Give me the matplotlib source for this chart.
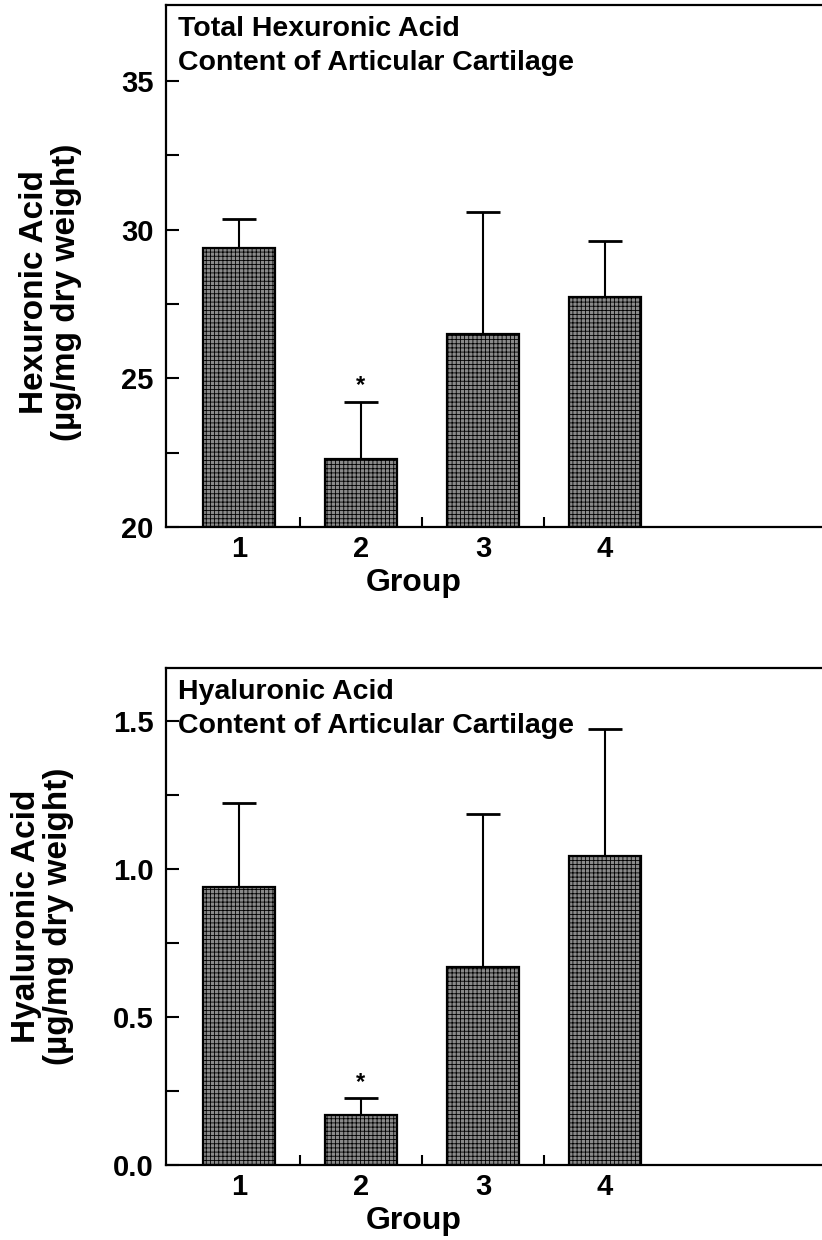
import numpy as np
import matplotlib
matplotlib.use("Agg")
import matplotlib.pyplot as plt

plt.rcParams['font.family'] = ['Liberation Sans Narrow', 'Liberation Sans', 'DejaVu Sans']
plt.rcParams['font.weight'] = 'bold'
plt.rcParams['axes.labelweight'] = 'bold'
plt.rcParams['hatch.color'] = '#4a4a4a'
plt.rcParams['hatch.linewidth'] = 0.6

# dados
grupos = [1, 2, 3, 4]
hexuronico = [29.37, 22.3, 26.5, 27.75]
hexuronico_erro = [0.98, 1.92, 4.1, 1.87]
hialuronico = [0.94, 0.17, 0.67, 1.045]
hialuronico_erro = [0.285, 0.055, 0.515, 0.43]
signif = [False, True, False, False]

painel_hex = {
    "titulo": "Total Hexuronic Acid\nContent of Articular Cartilage",
    "ylabel": "Hexuronic Acid\n(µg/mg dry weight)",
    "ylim": (20, 37.56),
    "major": [20, 25, 30, 35],
    "minor": [22.5, 27.5, 32.5],
    "fmt": "{:.0f}",
    "star": 0.55,
    "ylab_y": 0.45,
}
painel_hia = {
    "titulo": "Hyaluronic Acid\nContent of Articular Cartilage",
    "ylabel": "Hyaluronic Acid\n(µg/mg dry weight)",
    "ylim": (0, 1.68),
    "major": [0.0, 0.5, 1.0, 1.5],
    "minor": [0.25, 0.75, 1.25],
    "fmt": "{:.1f}",
    "star": 0.055,
    "ylab_y": 0.5,
}

fig = plt.figure(figsize=(8.22, 12.40), dpi=100)
ax1 = fig.add_axes([166 / 822, 1 - 527 / 1240, 1 - 166 / 822, (527 - 5) / 1240])
ax2 = fig.add_axes([166 / 822, 1 - 1165 / 1240, 1 - 166 / 822, (1165 - 668) / 1240])


def desenha(ax, valores, erros, cfg):
    x = np.array(grupos)
    ax.bar(x, np.array(valores) - cfg["ylim"][0], bottom=cfg["ylim"][0], width=0.59,
           color='#8a8a8a', edgecolor='black', linewidth=1.6, hatch='++++', zorder=2)
    ax.errorbar(x, valores, yerr=[np.zeros(4), erros], fmt='none', ecolor='black',
                elinewidth=1.5, capsize=12, capthick=2, zorder=1)
    for xi, v, e, s in zip(x, valores, erros, signif):
        if s:
            ax.text(xi, v + e + cfg["star"], '*', ha='center', va='center', fontsize=17)
    ax.set_xlim(0.402, 5.78)
    ax.set_ylim(*cfg["ylim"])
    ax.spines['right'].set_visible(False)
    for s in ['left', 'top', 'bottom']:
        ax.spines[s].set_linewidth(1.6)
    ax.set_xticks(grupos)
    ax.set_xticklabels([str(g) for g in grupos])
    ax.set_xticks([1.5, 2.5, 3.5], minor=True)
    ax.tick_params(axis='x', which='major', length=0, pad=6, labelsize=21)
    ax.tick_params(axis='x', which='minor', direction='in', length=7, width=1.5)
    ax.set_yticks(cfg["major"])
    ax.set_yticklabels([cfg["fmt"].format(v) for v in cfg["major"]])
    ax.set_yticks(cfg["minor"], minor=True)
    ax.tick_params(axis='y', which='both', direction='in', length=9, width=1.5,
                   pad=9, labelsize=21)
    ax.set_xlabel("Group", fontsize=23, labelpad=3, x=0.377)
    ax.set_ylabel(cfg["ylabel"], fontsize=24, labelpad=28, linespacing=1.05,
                  y=cfg["ylab_y"])
    ax.annotate(cfg["titulo"], xy=(0.018, 1), xycoords='axes fraction',
                xytext=(0, -8), textcoords='offset points', ha='left', va='top',
                fontsize=20.5, linespacing=1.4)


desenha(ax1, hexuronico, hexuronico_erro, painel_hex)
desenha(ax2, hialuronico, hialuronico_erro, painel_hia)

fig.savefig("out.png", dpi=100)
